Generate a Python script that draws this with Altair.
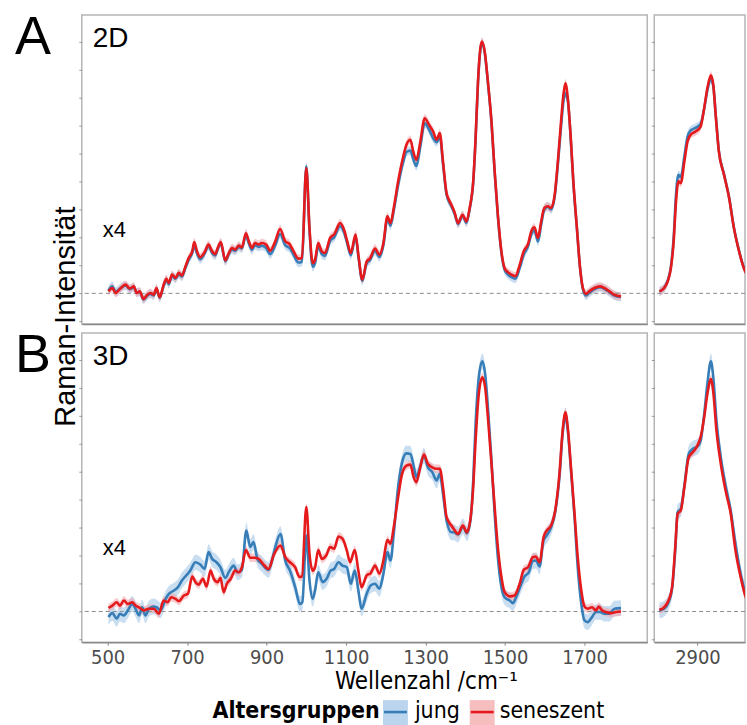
import altair as alt
import pandas as pd

# ---------------- data ----------------
groups = ["jung", "seneszent"]
line_colors = {"jung": "#377EB8", "seneszent": "#E41A1C"}
band_colors = {"jung": "#9DC3E6", "seneszent": "#F3A3A5"}

# 2D, fingerprint region
fp2_wn = [502, 512, 520, 531, 545, 556, 566, 573, 581, 590, 600, 608, 616, 623, 631, 641, 648, 654, 662, 671,
          679, 687, 696, 704, 713, 718, 725, 733, 743, 754, 763, 771, 777, 785, 796, 805, 813, 821, 830, 838,
          848, 855, 863, 871, 880, 888, 899, 909, 922, 934, 947, 958, 968, 980, 989, 1000, 1008, 1016, 1022, 1030,
          1039, 1047, 1060, 1070, 1085, 1095, 1103, 1112, 1124, 1131, 1141, 1152, 1160, 1173, 1184, 1194, 1204, 1212, 1220, 1231,
          1244, 1252, 1262, 1269, 1277, 1287, 1298, 1309, 1319, 1328, 1336, 1344, 1353, 1365, 1373, 1382, 1393, 1403, 1411, 1420,
          1426, 1432, 1438, 1442, 1449, 1457, 1466, 1474, 1482, 1491, 1499, 1507, 1516, 1526, 1537, 1547, 1558, 1566, 1574, 1583,
          1591, 1599, 1608, 1616, 1625, 1633, 1641, 1647, 1652, 1658, 1665, 1672, 1681, 1689, 1696, 1704, 1712, 1725, 1739, 1750,
          1763, 1775, 1792]
fp2_sen = [0.07, 0.19, 0.01, 0.15, 0.31, 0.17, 0.25, 0.01, 0.07, -0.20, -0.05, 0.01, -0.05, 0.19, -0.14, 0.31, 0.52, 0.37, 0.67, 0.55,
           0.73, 0.64, 0.96, 1.26, 1.50, 1.83, 1.50, 1.29, 1.44, 1.74, 1.50, 1.40, 1.62, 1.83, 1.18, 1.44, 1.62, 1.56, 1.71, 1.64,
           2.15, 1.88, 1.62, 1.80, 1.74, 1.80, 1.74, 1.52, 1.86, 2.30, 1.86, 1.76, 1.50, 1.24, 1.26, 4.48, 2.33, 1.08, 1.20, 1.80,
           1.50, 1.44, 1.98, 2.10, 2.51, 2.27, 1.86, 1.44, 2.10, 1.38, 0.49, 1.14, 1.24, 1.60, 1.38, 1.80, 2.75, 2.51, 3.05, 4.00,
           4.89, 5.31, 5.49, 5.07, 4.77, 5.43, 6.26, 6.02, 5.79, 5.49, 5.73, 4.71, 3.58, 3.17, 2.90, 2.51, 2.81, 2.57, 3.05, 4.00,
           5.55, 7.57, 8.76, 9.00, 8.64, 7.57, 6.14, 4.36, 2.81, 1.50, 0.90, 0.76, 0.67, 0.61, 1.02, 1.50, 1.76, 2.21, 2.36, 1.98,
           2.57, 3.05, 3.11, 3.05, 3.52, 4.71, 6.14, 7.10, 7.51, 6.98, 5.67, 4.00, 2.33, 0.90, 0.19, -0.02, 0.07, 0.19, 0.25, 0.19,
           0.07, -0.05, -0.11]
fp2_jung = [0.10, 0.25, 0.05, 0.17, 0.28, 0.15, 0.22, 0.03, 0.05, -0.22, -0.08, -0.02, -0.08, 0.15, -0.16, 0.27, 0.47, 0.33, 0.62, 0.52,
            0.68, 0.60, 0.92, 1.20, 1.44, 1.70, 1.42, 1.22, 1.40, 1.68, 1.44, 1.35, 1.58, 1.78, 1.15, 1.40, 1.57, 1.52, 1.66, 1.60,
            2.08, 1.80, 1.55, 1.72, 1.66, 1.70, 1.62, 1.40, 1.72, 2.12, 1.72, 1.62, 1.38, 1.10, 1.12, 4.54, 2.25, 0.95, 1.08, 1.68,
            1.40, 1.34, 1.88, 2.00, 2.40, 2.18, 1.78, 1.36, 2.02, 1.32, 0.45, 1.08, 1.18, 1.52, 1.30, 1.72, 2.66, 2.42, 2.95, 3.85,
            4.70, 5.05, 5.10, 4.80, 4.55, 5.25, 6.08, 5.85, 5.55, 5.40, 5.60, 4.62, 3.52, 3.12, 2.85, 2.48, 2.78, 2.52, 3.00, 3.96,
            5.50, 7.50, 8.70, 8.95, 8.60, 7.52, 6.10, 4.32, 2.76, 1.44, 0.84, 0.68, 0.58, 0.52, 0.90, 1.38, 1.68, 2.10, 2.25, 1.85,
            2.45, 3.00, 3.10, 3.00, 3.45, 4.60, 5.95, 6.85, 7.15, 6.90, 5.60, 3.95, 2.30, 0.88, 0.15, -0.08, 0.02, 0.15, 0.22, 0.16,
            0.04, -0.08, -0.13]

# 2D, high wavenumber region
hw2_wn = [2804, 2816, 2825, 2833, 2840, 2846, 2852, 2858, 2867, 2875, 2883, 2896, 2908, 2917, 2925, 2934, 2940, 2946, 2954, 2967,
          2980, 2992, 3005, 3017, 3030]
hw2_sen = [0.07, 0.19, 0.43, 0.90, 1.86, 3.29, 4.00, 3.94, 4.71, 5.43, 5.67, 5.79, 5.96, 6.62, 7.33, 7.79, 7.45, 6.38, 5.07, 4.24,
           3.40, 2.33, 1.50, 0.90, 0.55]
hw2_jung = [0.07, 0.19, 0.45, 0.95, 2.00, 3.55, 4.24, 4.15, 4.90, 5.60, 5.82, 5.92, 6.05, 6.60, 7.25, 7.65, 7.40, 6.40, 5.10, 4.26,
            3.42, 2.35, 1.52, 0.92, 0.57]

# 3D, fingerprint region
fp3_sen_wn = [502, 512, 523, 531, 541, 551, 562, 570, 581, 591, 604, 616, 629, 641, 651, 660, 671, 679, 692, 702,
              713, 721, 729, 740, 749, 759, 767, 777, 784, 792, 800, 810, 821, 830, 838, 848, 859, 869, 880, 891,
              905, 918, 935, 947, 959, 972, 983, 989, 1000, 1008, 1016, 1022, 1030, 1039, 1050, 1060, 1070, 1081, 1091, 1102,
              1110, 1122, 1131, 1139, 1152, 1162, 1173, 1184, 1194, 1204, 1212, 1220, 1231, 1241, 1252, 1262, 1270, 1277, 1286, 1296,
              1306, 1317, 1328, 1336, 1344, 1353, 1365, 1371, 1382, 1394, 1404, 1413, 1420, 1426, 1434, 1443, 1450, 1457, 1466, 1474,
              1482, 1491, 1499, 1512, 1524, 1537, 1547, 1558, 1570, 1578, 1587, 1597, 1605, 1616, 1627, 1637, 1645, 1652, 1658, 1666,
              1675, 1683, 1692, 1700, 1708, 1719, 1729, 1736, 1744, 1754, 1767, 1779, 1792]
fp3_sen = [0.13, 0.21, 0.33, 0.21, 0.39, 0.27, 0.33, 0.21, 0.13, 0.04, 0.10, 0.10, -0.08, 0.39, 0.33, 0.51, 0.45, 0.37, 0.57, 0.63,
           1.25, 1.05, 0.96, 1.17, 0.89, 1.46, 1.17, 1.05, 1.20, 0.69, 0.99, 1.17, 1.46, 1.40, 1.58, 2.20, 1.92, 1.92, 1.88, 1.70,
           1.52, 2.02, 2.36, 1.94, 1.76, 1.58, 1.23, 1.25, 3.73, 2.06, 1.46, 1.58, 2.20, 1.88, 2.00, 2.30, 2.24, 2.68, 2.60, 2.18,
           1.76, 2.20, 1.46, 0.87, 1.29, 1.37, 1.64, 1.35, 1.82, 2.56, 2.42, 3.01, 4.08, 4.92, 5.21, 5.25, 4.80, 4.62, 5.10, 5.61,
           5.27, 5.15, 5.10, 5.10, 4.44, 3.37, 3.07, 2.95, 2.77, 3.07, 2.83, 3.31, 4.44, 6.11, 7.77, 8.37, 8.01, 6.94, 5.27, 3.73,
           2.30, 1.23, 0.69, 0.54, 0.57, 0.99, 1.49, 1.58, 1.94, 1.96, 1.76, 2.65, 2.89, 3.07, 3.67, 4.92, 6.46, 7.12, 6.58, 5.15,
           3.49, 1.94, 0.75, 0.18, 0.10, 0.15, 0.04, 0.18, 0.04, -0.02, -0.06, -0.02, 0.00]
fp3_jung_wn = [502, 512, 523, 531, 541, 551, 562, 570, 579, 587, 595, 604, 615, 623, 633, 646, 654, 667, 677, 687,
               698, 708, 721, 733, 744, 754, 763, 774, 784, 796, 807, 817, 827, 838, 849, 859, 867, 877, 888, 905,
               915, 922, 935, 947, 959, 972, 984, 990, 1000, 1008, 1016, 1022, 1030, 1041, 1051, 1061, 1070, 1081, 1091, 1102,
               1112, 1122, 1131, 1139, 1152, 1162, 1173, 1184, 1194, 1204, 1212, 1220, 1231, 1241, 1252, 1262, 1270, 1277, 1286, 1296,
               1306, 1317, 1328, 1336, 1344, 1353, 1365, 1371, 1382, 1394, 1404, 1413, 1420, 1426, 1434, 1443, 1450, 1457, 1466, 1474,
               1482, 1491, 1499, 1512, 1520, 1528, 1538, 1549, 1560, 1570, 1578, 1587, 1597, 1605, 1616, 1627, 1637, 1645, 1652, 1658,
               1666, 1675, 1683, 1692, 1700, 1708, 1719, 1729, 1739, 1750, 1763, 1775, 1792]
fp3_jung = [-0.20, -0.06, -0.26, -0.08, -0.14, 0.04, 0.27, 0.10, -0.14, 0.15, -0.14, 0.10, 0.18, 0.15, 0.04, 0.45, 0.63, 0.75, 0.87, 1.11,
            1.29, 1.46, 1.76, 1.68, 1.52, 2.12, 1.88, 1.76, 1.58, 1.20, 1.46, 1.64, 1.40, 1.49, 2.89, 2.30, 2.48, 1.88, 1.70, 1.49,
            1.90, 2.30, 2.77, 1.82, 1.46, 0.87, 0.27, 0.33, 2.71, 1.11, 0.45, 0.75, 1.40, 1.05, 1.17, 1.46, 1.52, 1.76, 1.64, 1.58,
            0.99, 1.46, 0.75, 0.10, 0.63, 0.93, 0.99, 0.81, 1.35, 2.12, 1.82, 2.77, 4.44, 5.33, 5.65, 5.63, 5.21, 4.80, 5.15, 5.57,
            5.15, 4.98, 4.68, 4.92, 4.20, 3.25, 2.83, 2.83, 2.75, 3.04, 2.80, 3.25, 4.68, 6.70, 8.37, 8.94, 8.49, 7.30, 5.39, 3.49,
            1.94, 0.87, 0.51, 0.39, 0.30, 0.51, 0.87, 1.25, 1.40, 1.80, 1.82, 1.61, 2.54, 2.71, 3.01, 3.61, 4.80, 6.35, 7.00, 6.46,
            5.04, 3.37, 1.58, 0.27, -0.32, -0.38, -0.20, -0.02, -0.02, -0.08, -0.08, 0.10, 0.12]

# 3D, high wavenumber region
hw3_wn = [2804, 2816, 2827, 2836, 2844, 2850, 2858, 2867, 2878, 2888, 2900, 2908, 2917, 2925, 2934, 2940, 2948, 2959, 2971, 2984,
          2996, 3009, 3022, 3030]
hw3_sen = [0.06, 0.15, 0.39, 0.87, 2.30, 3.49, 3.61, 4.44, 5.51, 5.69, 5.93, 6.23, 6.94, 7.77, 8.31, 7.83, 6.46, 5.27, 4.32, 3.49,
           2.18, 1.23, 0.51, 0.30]
hw3_jung = [0.04, 0.10, 0.33, 0.81, 2.18, 3.55, 3.67, 4.50, 5.63, 5.81, 5.89, 6.10, 7.05, 8.13, 8.94, 8.37, 6.82, 5.51, 4.50, 3.60,
            2.42, 1.35, 0.63, 0.42]

# half-width of the shaded bands
band_half = {("2D", "jung"): 0.16, ("2D", "seneszent"): 0.15,
             ("3D", "jung"): 0.28, ("3D", "seneszent"): 0.15}

panel_names = ["2D", "3D"]
panel_letters = ["A", "B"]
scale_note = "x4"
legend_title = "Altersgruppen"
fp_ticks = [500, 700, 900, 1100, 1300, 1500, 1700]
hw_ticks = [2900]
y_ticks = list(range(-1, 10))

FONT = "Liberation Sans, Arial, sans-serif"
NARROW = "DejaVu Sans Condensed, Liberation Sans Narrow, sans-serif"

FP_DOMAIN = [435, 1858]
HW_DOMAIN = [2791, 3020]
Y_DOMAIN = [-1.1, 9.95]
LEFT_W, RIGHT_W, PANEL_H = 567, 91, 310


def frame(wn, vals, group, half):
    return pd.DataFrame({
        "wn": wn, "y": vals,
        "lo": [v - half for v in vals], "hi": [v + half for v in vals],
        "group": group,
    })


def panel(series, domain, width, row, left):
    bottom = row == 1
    xscale = alt.Scale(domain=domain, nice=False, zero=False)
    yscale = alt.Scale(domain=Y_DOMAIN, nice=False, zero=False)
    if bottom:
        xaxis = alt.Axis(values=fp_ticks if left else hw_ticks, format="d", grid=False, domain=True,
                         domainColor="#8a8a8a", domainWidth=1.5,
                         ticks=True, tickSize=3, tickColor="#8a8a8a", labelFont=NARROW,
                         labelFontSize=20, labelColor="#4D4D4D", labelPadding=2,
                         title=("Wellenzahl /cm\u207B\u00B9" if left else None),
                         titleFont=NARROW, titleFontSize=24, titleFontWeight="normal",
                         titleColor="#000000", titleX=345, titleY=46,
                         titleBaseline="alphabetic", titleAlign="center")
    else:
        xaxis = alt.Axis(values=fp_ticks if left else hw_ticks, grid=False, domain=True,
                         domainColor="#8a8a8a", domainWidth=1.5, ticks=False,
                         labels=False, title=None)
    if left and row == 0:
        yaxis = alt.Axis(values=y_ticks, grid=False, domain=False, labels=False, ticks=True,
                         tickSize=3, tickColor="#9a9a9a", title="Raman-Intensit\u00e4t",
                         titleFont=FONT, titleFontSize=29, titleFontWeight="normal",
                         titleColor="#000000", titleAngle=270, titleAlign="center",
                         titleBaseline="alphabetic", titleX=-7, titleY=302)
    else:
        yaxis = alt.Axis(values=y_ticks, grid=False, domain=False, labels=False, ticks=True,
                         tickSize=3, tickColor="#9a9a9a", title=None)

    X = alt.X("wn:Q", scale=xscale, axis=xaxis)
    layers = []
    for g in groups:
        layers.append(alt.Chart(series[g]).mark_area(
            color=band_colors[g], opacity=0.55, interpolate="monotone", clip=True
        ).encode(x=X, y=alt.Y("lo:Q", scale=yscale, axis=yaxis), y2="hi:Q"))
    layers.append(alt.Chart(pd.DataFrame({"y": [0]})).mark_rule(
        color="#8c8c8c", strokeDash=[4, 3], strokeWidth=1
    ).encode(y=alt.Y("y:Q", scale=yscale, axis=yaxis)))
    for g in groups:
        layers.append(alt.Chart(series[g]).mark_line(
            color=line_colors[g], strokeWidth=2.6, interpolate="monotone", clip=True
        ).encode(x=X, y=alt.Y("y:Q", scale=yscale, axis=yaxis)))

    if left:
        name = panel_names[row]
        layers.append(alt.Chart(pd.DataFrame({"t": [name]})).mark_text(
            font=FONT, fontSize=28, align="left", baseline="alphabetic", color="#000000"
        ).encode(text="t:N", x=alt.value(11), y=alt.value(32)))
        layers.append(alt.Chart(pd.DataFrame({"t": [scale_note]})).mark_text(
            font=FONT, fontSize=22, align="left", baseline="alphabetic", color="#000000"
        ).encode(text="t:N", x=alt.value(21), y=alt.value(223)))
        layers.append(alt.Chart(pd.DataFrame({"t": [panel_letters[row]]})).mark_text(
            font=FONT, fontSize=54, align="left", baseline="alphabetic", color="#000000"
        ).encode(text="t:N", x=alt.value(-67), y=alt.value(39)))
        if bottom:
            # legend, drawn below the bottom-left panel
            layers.append(alt.Chart(pd.DataFrame({"t": [legend_title]})).mark_text(
                font=NARROW, fontSize=23, fontWeight="bold", align="left",
                baseline="alphabetic", color="#000000"
            ).encode(text="t:N", x=alt.value(131), y=alt.value(386)))
            key_x = [302, 389]
            text_x = [334, 419]
            for i, g in enumerate(groups):
                layers.append(alt.Chart(pd.DataFrame({"t": [g]})).mark_rect(
                    color=band_colors[g], opacity=0.7
                ).encode(x=alt.value(key_x[i]), x2=alt.value(key_x[i] + 25),
                         y=alt.value(368), y2=alt.value(393)))
                layers.append(alt.Chart(pd.DataFrame({"t": [g]})).mark_rule(
                    color=line_colors[g], strokeWidth=2.6
                ).encode(x=alt.value(key_x[i] + 1), x2=alt.value(key_x[i] + 24),
                         y=alt.value(380)))
                layers.append(alt.Chart(pd.DataFrame({"t": [g]})).mark_text(
                    font=NARROW, fontSize=23, align="left", baseline="alphabetic",
                    color="#000000"
                ).encode(text="t:N", x=alt.value(text_x[i]), y=alt.value(386)))

    return alt.layer(*layers).properties(width=width, height=PANEL_H)


data = {
    (0, True): {"jung": frame(fp2_wn, fp2_jung, "jung", band_half[("2D", "jung")]),
                "seneszent": frame(fp2_wn, fp2_sen, "seneszent", band_half[("2D", "seneszent")])},
    (0, False): {"jung": frame(hw2_wn, hw2_jung, "jung", band_half[("2D", "jung")]),
                 "seneszent": frame(hw2_wn, hw2_sen, "seneszent", band_half[("2D", "seneszent")])},
    (1, True): {"jung": frame(fp3_jung_wn, fp3_jung, "jung", band_half[("3D", "jung")]),
                "seneszent": frame(fp3_sen_wn, fp3_sen, "seneszent", band_half[("3D", "seneszent")])},
    (1, False): {"jung": frame(hw3_wn, hw3_jung, "jung", band_half[("3D", "jung")]),
                 "seneszent": frame(hw3_wn, hw3_sen, "seneszent", band_half[("3D", "seneszent")])},
}

panels = []
for r in range(2):
    panels.append(panel(data[(r, True)], FP_DOMAIN, LEFT_W, r, True))
    panels.append(panel(data[(r, False)], HW_DOMAIN, RIGHT_W, r, False))

chart = alt.concat(
    *panels, columns=2, bounds="flush",
    spacing=alt.RowColnumber(row=9, column=7),
).properties(
    padding={"left": 14, "top": 9, "right": 0, "bottom": 0},
    background="white",
).configure_view(stroke="#b5b5b5", strokeWidth=1.5)

chart.save("out.html", embed_options={"renderer": "svg", "actions": False})
